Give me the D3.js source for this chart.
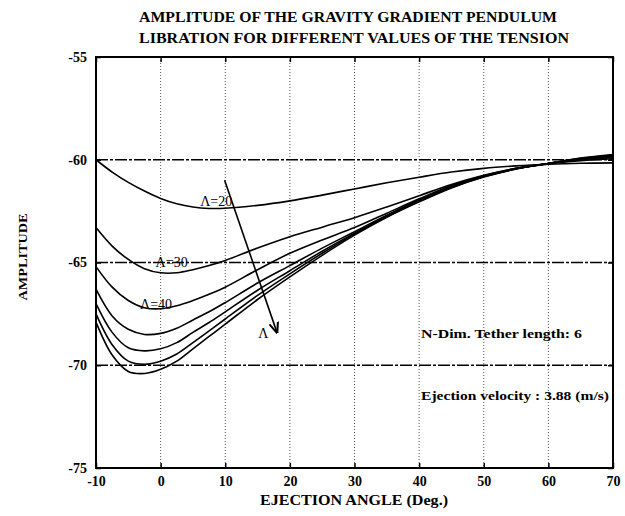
<!DOCTYPE html>
<html>
<head>
<meta charset="utf-8">
<script src="https://cdn.jsdelivr.net/npm/d3@7"></script>
<style>
  html, body { margin: 0; padding: 0; background: #fff; }
  svg text { font-family: "Liberation Serif", "Times New Roman", serif; fill: #000; }
</style>
</head>
<body>
<svg id="chart" width="625" height="516"></svg>
<script>
// Ejection angle (deg) at which each curve is sampled
const angles = [-10, -7.5, -5, -2.5, 0, 2.5, 5, 7.5, 10, 15, 20, 25, 30, 35, 40, 45, 50, 55, 60, 65, 70];

// Libration amplitude for increasing tension (Λ=20, Λ=30, Λ=40, then higher)
const ampL20 = [-60.0, -60.6, -61.1, -61.52, -61.88, -62.14, -62.3, -62.37, -62.36, -62.22, -62.0, -61.72, -61.42, -61.12, -60.85, -60.6, -60.42, -60.3, -60.22, -60.17, -60.15];
const ampL30 = [-63.3, -64.2, -64.85, -65.3, -65.5, -65.5, -65.35, -65.15, -64.9, -64.3, -63.75, -63.28, -62.82, -62.3, -61.75, -61.2, -60.75, -60.42, -60.2, -60.05, -59.95];
const ampL40 = [-65.2, -66.2, -66.85, -67.2, -67.25, -67.1, -66.85, -66.55, -66.2, -65.35, -64.55, -63.9, -63.3, -62.6, -61.9, -61.25, -60.78, -60.42, -60.18, -60.0, -59.9];
const ampL4 = [-66.3, -67.6, -68.25, -68.5, -68.45, -68.2, -67.8, -67.4, -66.95, -66.0, -65.15, -64.3, -63.5, -62.7, -61.95, -61.3, -60.8, -60.43, -60.18, -59.98, -59.85];
const ampL5 = [-67.0, -68.4, -69.15, -69.3, -69.2, -68.9, -68.4, -67.92, -67.4, -66.35, -65.4, -64.45, -63.57, -62.75, -62.0, -61.33, -60.82, -60.44, -60.18, -59.95, -59.8];
const ampL6 = [-67.5, -69.0, -69.8, -69.95, -69.8, -69.45, -68.9, -68.33, -67.75, -66.6, -65.55, -64.55, -63.62, -62.78, -62.02, -61.35, -60.83, -60.45, -60.18, -59.93, -59.78];
const ampL7 = [-67.9, -69.5, -70.3, -70.4, -70.2, -69.8, -69.2, -68.6, -68.0, -66.8, -65.7, -64.65, -63.67, -62.8, -62.05, -61.37, -60.84, -60.45, -60.18, -59.92, -59.75];
const seriesList = [ampL20, ampL30, ampL40, ampL4, ampL5, ampL6, ampL7];

// Axis ticks
const xTicks = [-10, 0, 10, 20, 30, 40, 50, 60, 70];
const yTicks = [-75, -70, -65, -60, -55];
const yGrid = [-70, -65, -60];
const xGrid = [0, 10, 20, 30, 40, 50, 60];

// Curve labels: [text, angle, amplitude]
const curveLabels = [["Λ=20", 8.6, -62.0], ["Λ=30", 1.7, -65.0], ["Λ=40", -0.7, -67.0]];
// Arrow showing increasing Λ: start and end in data units
const arrowFrom = [9.9, -61.0];
const arrowTo = [18.0, -68.4];
const arrowLabel = ["Λ", 15.9, -68.45];

const titleLines = ["AMPLITUDE OF THE GRAVITY GRADIENT PENDULUM", "LIBRATION FOR DIFFERENT VALUES OF THE TENSION"];
const notes = ["N-Dim. Tether length: 6", "Ejection velocity : 3.88 (m/s)"];

const svg = d3.select("#chart");
const x = d3.scaleLinear().domain([-10, 70]).range([96, 613]);
const y = d3.scaleLinear().domain([-75, -55]).range([468, 57]);

// Title
svg.append("text").attr("x", 348).attr("y", 22).attr("text-anchor", "middle")
  .attr("font-size", 14).attr("font-weight", "bold")
  .attr("textLength", 418).attr("lengthAdjust", "spacingAndGlyphs").text(titleLines[0]);
svg.append("text").attr("x", 354).attr("y", 43).attr("text-anchor", "middle")
  .attr("font-size", 14).attr("font-weight", "bold")
  .attr("textLength", 430).attr("lengthAdjust", "spacingAndGlyphs").text(titleLines[1]);

// Grid: dotted verticals, dash-dot horizontals
svg.append("g").selectAll("line").data(xGrid).join("line")
  .attr("x1", d => x(d)).attr("x2", d => x(d))
  .attr("y1", y(-55)).attr("y2", y(-75))
  .attr("stroke", "#555").attr("stroke-width", 1).attr("stroke-dasharray", "1,2");
svg.append("g").selectAll("line").data(yGrid).join("line")
  .attr("x1", x(-10)).attr("x2", x(70))
  .attr("y1", d => y(d)).attr("y2", d => y(d))
  .attr("stroke", "#000").attr("stroke-width", 1.3).attr("stroke-dasharray", "12,2,3,2");

// Axes with inward ticks on all four sides
const tickLen = 5;
const fmt = d => String(d);
const axB = svg.append("g").attr("transform", `translate(0,${y(-75)})`)
  .call(d3.axisBottom(x).tickValues(xTicks).tickSize(-tickLen).tickPadding(8).tickFormat(fmt));
const axT = svg.append("g").attr("transform", `translate(0,${y(-55)})`)
  .call(d3.axisTop(x).tickValues(xTicks).tickSize(-tickLen).tickFormat(""));
const axL = svg.append("g").attr("transform", `translate(${x(-10)},0)`)
  .call(d3.axisLeft(y).tickValues(yTicks).tickSize(-tickLen).tickPadding(9).tickFormat(fmt));
const axR = svg.append("g").attr("transform", `translate(${x(70)},0)`)
  .call(d3.axisRight(y).tickValues(yTicks).tickSize(-tickLen).tickFormat(""));
[axB, axT, axL, axR].forEach(a => {
  a.select(".domain").remove();
  a.selectAll(".tick line").attr("stroke", "#000").attr("stroke-width", 1.5);
  a.selectAll("text").attr("font-size", 14).attr("font-weight", "bold")
    .attr("font-family", "'Liberation Serif', serif").attr("fill", "#000");
});

// Frame
svg.append("rect").attr("x", x(-10)).attr("y", y(-55))
  .attr("width", x(70) - x(-10)).attr("height", y(-75) - y(-55))
  .attr("fill", "none").attr("stroke", "#000").attr("stroke-width", 2);

// Curves
const line = d3.line().x((d, i) => x(angles[i])).y(d => y(d)).curve(d3.curveCatmullRom.alpha(0.5));
svg.append("g").selectAll("path").data(seriesList).join("path")
  .attr("d", d => line(d))
  .attr("fill", "none").attr("stroke", "#000").attr("stroke-width", 1.6);

// Curve labels
svg.append("g").selectAll("text").data(curveLabels).join("text")
  .attr("x", d => x(d[1])).attr("y", d => y(d[2])).attr("dy", "0.35em")
  .attr("text-anchor", "middle").attr("font-size", 14)
  .text(d => d[0]);

// Arrow of increasing Λ
svg.append("defs").append("marker").attr("id", "head")
  .attr("viewBox", "0 0 10 10").attr("refX", 9).attr("refY", 5)
  .attr("markerWidth", 7).attr("markerHeight", 7).attr("orient", "auto")
  .append("path").attr("d", "M0,1 L10,5 L0,9").attr("fill", "none")
  .attr("stroke", "#000").attr("stroke-width", 1.8);
svg.append("line")
  .attr("x1", x(arrowFrom[0])).attr("y1", y(arrowFrom[1]))
  .attr("x2", x(arrowTo[0])).attr("y2", y(arrowTo[1]))
  .attr("stroke", "#000").attr("stroke-width", 1.6).attr("marker-end", "url(#head)");
svg.append("text").attr("x", x(arrowLabel[1])).attr("y", y(arrowLabel[2])).attr("dy", "0.35em")
  .attr("text-anchor", "middle").attr("font-size", 14).text(arrowLabel[0]);

// Notes
svg.append("text").attr("x", 421).attr("y", 338).attr("font-size", 13).attr("font-weight", "bold")
  .attr("textLength", 161).attr("lengthAdjust", "spacingAndGlyphs").text(notes[0]);
svg.append("text").attr("x", 421).attr("y", 400).attr("font-size", 13).attr("font-weight", "bold")
  .attr("textLength", 188).attr("lengthAdjust", "spacingAndGlyphs").text(notes[1]);

// Axis titles
svg.append("text").attr("x", 354).attr("y", 505).attr("text-anchor", "middle")
  .attr("font-size", 14).attr("font-weight", "bold")
  .attr("textLength", 188).attr("lengthAdjust", "spacingAndGlyphs").text("EJECTION ANGLE (Deg.)");
svg.append("text").attr("transform", "translate(27,257) rotate(-90)").attr("text-anchor", "middle")
  .attr("font-size", 13).attr("font-weight", "bold")
  .attr("textLength", 87).attr("lengthAdjust", "spacingAndGlyphs").text("AMPLITUDE");
</script>
</body>
</html>
